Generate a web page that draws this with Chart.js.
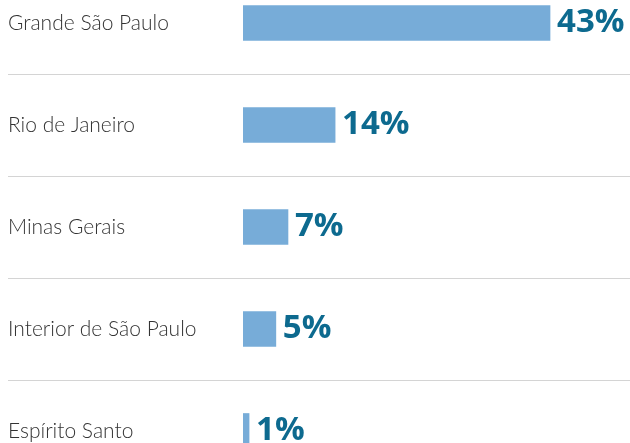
<!DOCTYPE html>
<html>
<head>
<meta charset="utf-8">
<script src="https://cdn.jsdelivr.net/npm/chart.js@4.4.1/dist/chart.umd.min.js"></script>
<style>
  html, body { margin: 0; padding: 0; background: #fff; overflow: hidden; }
  body { position: relative; width: 630px; height: 443px; }
  #barChart { position: absolute; left: 0; top: -28.5px; }
</style>
</head>
<body>
<canvas id="barChart" width="630" height="510"></canvas>
<script>
// regions and shares
const regions = ['Grande São Paulo', 'Rio de Janeiro', 'Minas Gerais', 'Interior de São Paulo', 'Espírito Santo'];
const shares = [43, 12.9, 6.3, 4.6, 0.85];
const shareLabels = ['43%', '14%', '7%', '5%', '1%'];

// draws the bold percentage next to each bar
const valueLabels = {
    id: 'valueLabels',
    afterDatasetsDraw(chart) {
        const ctx = chart.ctx;
        const meta = chart.getDatasetMeta(0);
        ctx.save();
        ctx.fillStyle = '#0d6a8f';
        ctx.font = 'bold 33px "Open Sans", sans-serif';
        ctx.textAlign = 'left';
        ctx.textBaseline = 'alphabetic';
        meta.data.forEach(function(bar, i) {
            ctx.fillText(shareLabels[i], bar.x + 7, bar.y + 9);
        });
        ctx.restore();
    }
};

document.addEventListener('DOMContentLoaded', function() {
    const data = {
        labels: regions,
        datasets: [{
            data: shares,
            backgroundColor: '#77acd8',
            borderWidth: 0,
            barThickness: 35,
        }],
    };

    const options = {
        indexAxis: 'y',
        responsive: false,
        animation: false,
        layout: { padding: { left: 8, right: 0, top: 0, bottom: 0 } },
        plugins: { legend: { display: false }, tooltip: { enabled: false } },
        scales: {
            x: { display: false, min: 0, max: 54.2 },
            y: {
                afterFit: function(scale) {
                    scale.width = 235;
                    scale.paddingTop = 0;
                    scale.paddingBottom = 0;
                },
                border: { display: false },
                grid: {
                    offset: true,
                    color: '#d4d4d4',
                    lineWidth: 1,
                    drawTicks: true,
                    tickLength: 235,
                },
                ticks: {
                    crossAlign: 'far',
                    color: '#333333',
                    font: { family: 'Lato, sans-serif', size: 21, weight: 300 },
                    padding: 0,
                },
            },
        },
    };

    new Chart(document.getElementById('barChart'), {
        type: 'bar',
        data: data,
        options: options,
        plugins: [valueLabels],
    });
});
</script>
</body>
</html>
